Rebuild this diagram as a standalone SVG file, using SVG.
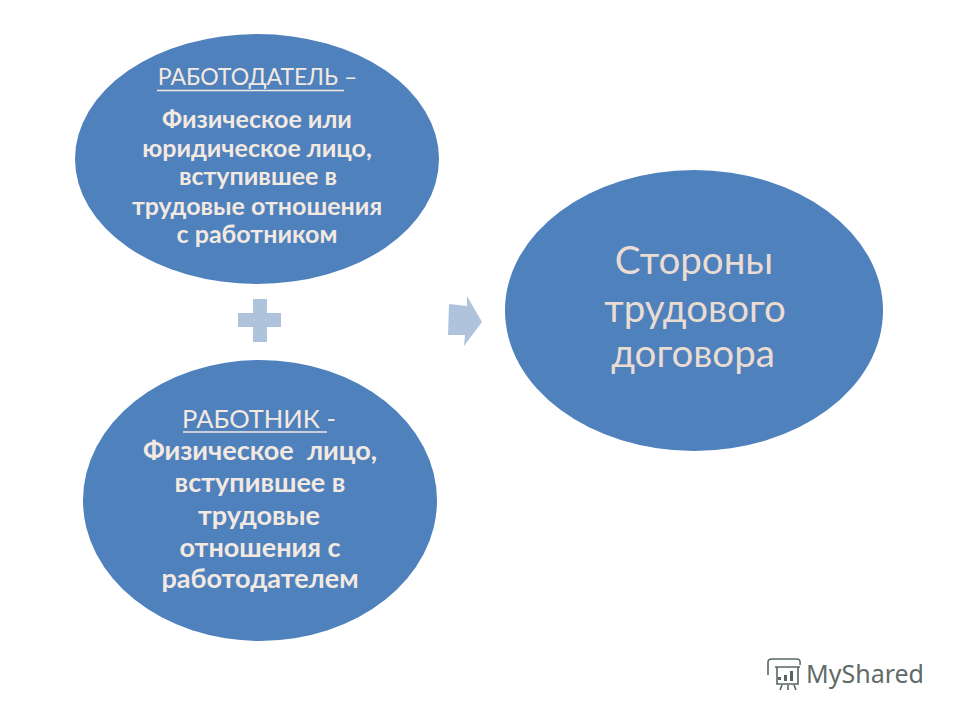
<svg xmlns="http://www.w3.org/2000/svg" width="960" height="720" viewBox="0 0 960 720">
<style>
.n{fill:#4f81bd}
.s{fill:#b0c3dd}
text{font-family:"Lato","Open Sans","Noto Sans",sans-serif;text-anchor:middle;fill:#f3e9e1}
.b{font-weight:700;font-size:25px}
.c{font-weight:700;font-size:27px}
.t{font-family:"Lato","Open Sans",sans-serif;font-size:38.500px;fill:#eadcd2}
.u{stroke:#f3e9e1;stroke-width:1.5;fill:none}
.l{fill:none;stroke:#57675f;stroke-width:1.6}
</style>
<rect width="960" height="720" fill="#fff"/>
<g id="connectors">
<path id="plus" class="s" d="M253 299H267V313H281V327H267V342H253V327H238V313H253Z"/>
<path id="arrow" class="s" d="M449 304L467 306L467 296L482 322L464 346L465 335L448 335Z"/>
</g>
<g id="employer">
<ellipse class="n" cx="257" cy="159" rx="182" ry="125"/>
<text x="257.500" y="85" style="font-size:23px;font-weight:400">РАБОТОДАТЕЛЬ –</text>
<path class="u" d="M157 90.500H344"/>
<text class="b" x="257" y="128">Физическое или</text>
<text class="b" x="257" y="157">юридическое лицо,</text>
<text class="b" x="258" y="185">вступившее в</text>
<text class="b" x="257" y="215">трудовые отношения</text>
<text class="b" x="257" y="243">с работником</text>
</g>
<g id="employee">
<ellipse class="n" cx="260" cy="500.500" rx="177" ry="140.500"/>
<text x="259" y="427.500" style="font-size:25.500px;font-weight:400">РАБОТНИК -</text>
<path class="u" d="M183 432H327"/>
<text class="c" x="260" y="460" xml:space="preserve">Физическое  лицо,</text>
<text class="c" x="260" y="492">вступившее в</text>
<text class="c" x="259" y="525">трудовые</text>
<text class="c" x="260" y="557">отношения с</text>
<text class="c" x="260" y="588">работодателем</text>
</g>
<g id="parties">
<ellipse class="n" cx="694" cy="310.500" rx="189" ry="140.500"/>
<text class="t" x="694" y="274">Стороны</text>
<text class="t" x="695" y="322">трудового</text>
<text class="t" x="693" y="367">договора</text>
</g>
<g id="logo">
<path class="l" d="M775 667H800M777 667V684H798V667M768 675V662Q768 659 772 659H797Q801 659 800 665M782 685L780 690M788 685V690M794 685L796 690"/>
<path d="M778 677h3v3h-3zM784 675h3v6h-3zM790 671h3v10h-3z" fill="#57675f"/>
<text x="865" y="683" style="font-family:'Noto Sans',sans-serif;font-size:25px;fill:#5f6b68">MyShared</text>
</g>
</svg>
